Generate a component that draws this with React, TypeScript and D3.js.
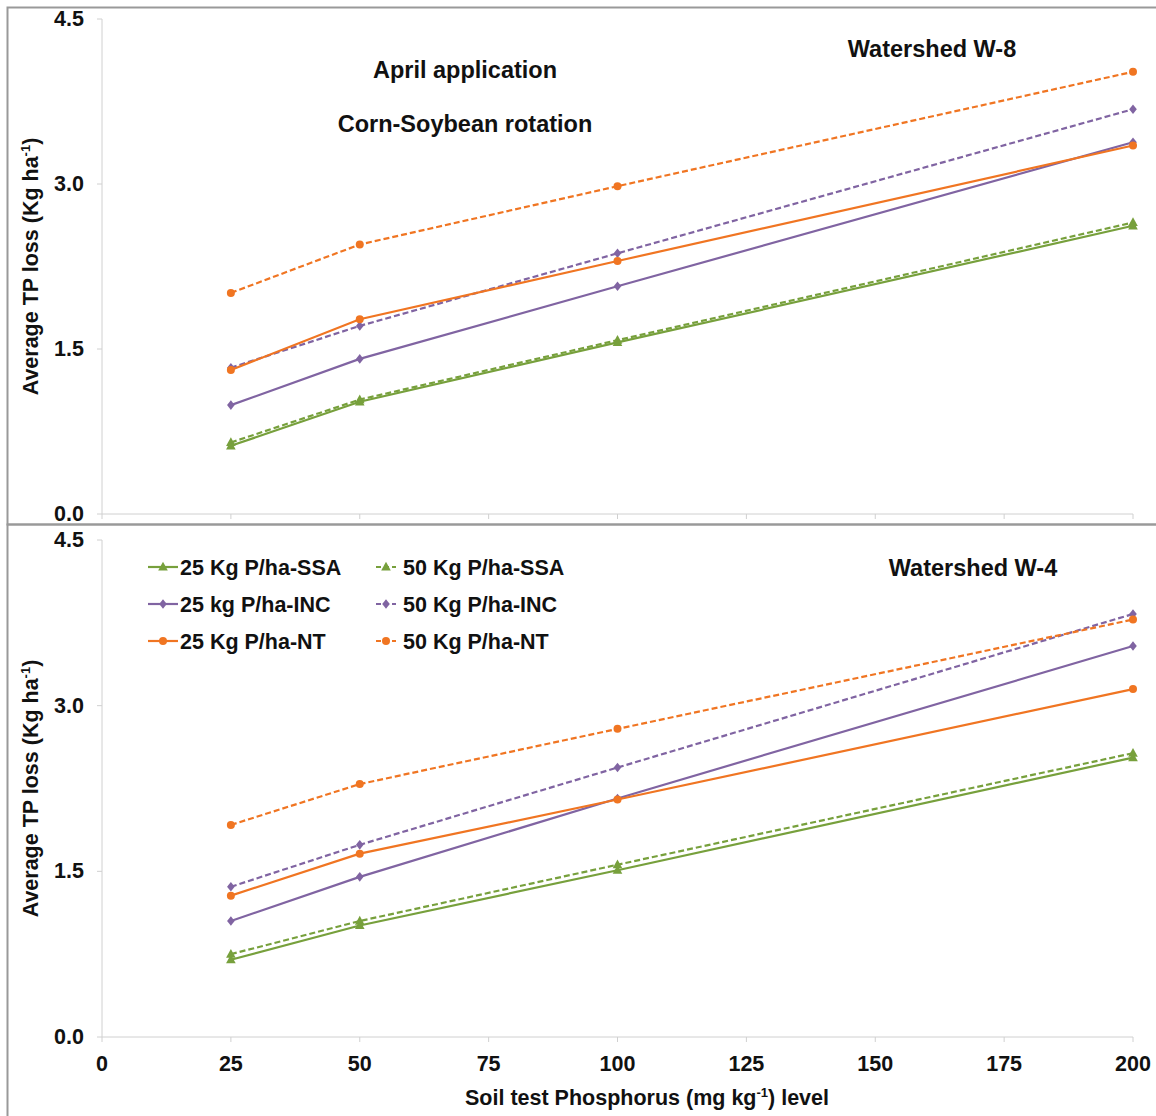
import React from "react";
import * as d3 from "d3";

const xValues = [25, 50, 100, 200];
const xTicks = [0, 25, 50, 75, 100, 125, 150, 175, 200];
const yTicks = [0, 1.5, 3.0, 4.5];

// Watershed W-8 (top)
const w8_25SSA = [0.62, 1.02, 1.56, 2.62];
const w8_50SSA = [0.65, 1.04, 1.58, 2.65];
const w8_25INC = [0.99, 1.41, 2.07, 3.38];
const w8_50INC = [1.33, 1.71, 2.37, 3.68];
const w8_25NT = [1.31, 1.77, 2.3, 3.35];
const w8_50NT = [2.01, 2.45, 2.98, 4.02];

// Watershed W-4 (bottom)
const w4_25SSA = [0.7, 1.01, 1.51, 2.53];
const w4_50SSA = [0.75, 1.05, 1.56, 2.57];
const w4_25INC = [1.05, 1.45, 2.16, 3.54];
const w4_50INC = [1.36, 1.74, 2.44, 3.83];
const w4_25NT = [1.28, 1.66, 2.15, 3.15];
const w4_50NT = [1.92, 2.29, 2.79, 3.78];

const seriesNames = [
  "25 Kg P/ha-SSA",
  "25 kg P/ha-INC",
  "25 Kg P/ha-NT",
  "50 Kg P/ha-SSA",
  "50 Kg P/ha-INC",
  "50 Kg P/ha-NT",
];

const GREEN = "#77A03C";
const PURPLE = "#8064A2";
const ORANGE = "#F07522";
const FONT = "'Liberation Sans', Arial, sans-serif";

type S = { name: string; values: number[]; color: string; dashed: boolean; marker: string };

function makeSeries(v: number[][]): S[] {
  const colors = [GREEN, PURPLE, ORANGE, GREEN, PURPLE, ORANGE];
  const markers = ["tri", "dia", "circ", "tri", "dia", "circ"];
  return v.map((vals, i) => ({
    name: seriesNames[i],
    values: vals,
    color: colors[i],
    dashed: i >= 3,
    marker: markers[i],
  }));
}

const topSeries = makeSeries([w8_25SSA, w8_25INC, w8_25NT, w8_50SSA, w8_50INC, w8_50NT]);
const botSeries = makeSeries([w4_25SSA, w4_25INC, w4_25NT, w4_50SSA, w4_50INC, w4_50NT]);

function Marker({ type, x, y, color }: { type: string; x: number; y: number; color: string }) {
  if (type === "circ") return <circle cx={x} cy={y} r={4} fill={color} />;
  if (type === "dia")
    return <path d={`M${x},${y - 4.8}L${x + 3.8},${y}L${x},${y + 4.8}L${x - 3.8},${y}Z`} fill={color} />;
  return <path d={`M${x},${y - 5.2}L${x + 4.8},${y + 3.6}L${x - 4.8},${y + 3.6}Z`} fill={color} />;
}

function Panel({
  series,
  top,
  bottom,
  showXLabels,
}: {
  series: S[];
  top: number;
  bottom: number;
  showXLabels: boolean;
}) {
  const x = d3.scaleLinear().domain([0, 200]).range([102, 1133]);
  const y = d3.scaleLinear().domain([0, 4.5]).range([bottom, top]);
  const line = d3
    .line<number>()
    .x((_, i) => x(xValues[i]))
    .y((d) => y(d));
  const order = [0, 3, 1, 4, 2, 5];
  return (
    <g>
      <line x1={x(0)} x2={x(0)} y1={y(4.5)} y2={y(0)} stroke="#d0d0d0" strokeWidth={1} />
      <line x1={x(0)} x2={x(200)} y1={y(0)} y2={y(0)} stroke="#d0d0d0" strokeWidth={1} />
      {yTicks.map((t) => (
        <g key={t}>
          <line x1={x(0) - 5} x2={x(0)} y1={y(t)} y2={y(t)} stroke="#d0d0d0" />
          <text
            x={84}
            y={y(t)}
            textAnchor="end"
            dominantBaseline="central"
            fontFamily={FONT}
            fontWeight="bold"
            fontSize={21.5}
            fill="#111"
          >
            {t.toFixed(1)}
          </text>
        </g>
      ))}
      {xTicks.map((t) => (
        <g key={t}>
          <line x1={x(t)} x2={x(t)} y1={y(0)} y2={y(0) + 5} stroke="#d0d0d0" />
          {showXLabels && (
            <text
              x={x(t)}
              y={y(0) + 34}
              textAnchor="middle"
              fontFamily={FONT}
              fontWeight="bold"
              fontSize={21.5}
              fill="#111"
            >
              {t}
            </text>
          )}
        </g>
      ))}
      <text
        transform={`translate(38,${(y(4.5) + y(0)) / 2}) rotate(-90)`}
        textAnchor="middle"
        fontFamily={FONT}
        fontWeight="bold"
        fontSize={21.5}
        fill="#111"
      >
        Average TP loss (Kg ha
        <tspan dy={-8} fontSize={13}>
          -1
        </tspan>
        <tspan dy={8}>)</tspan>
      </text>
      {order.map((i) => {
        const s = series[i];
        return (
          <g key={s.name}>
            <path
              d={line(s.values) || ""}
              fill="none"
              stroke={s.color}
              strokeWidth={2.2}
              strokeDasharray={s.dashed ? "6,3" : undefined}
            />
            {s.values.map((v, j) => (
              <Marker key={j} type={s.marker} x={x(xValues[j])} y={y(v)} color={s.color} />
            ))}
          </g>
        );
      })}
    </g>
  );
}

function Legend({ series }: { series: S[] }) {
  const cols = [148, 376];
  const rows = [567, 604, 641];
  return (
    <g>
      {series.map((s, i) => {
        const cx = cols[Math.floor(i / 3)];
        const cy = rows[i % 3];
        const len = s.dashed ? 20 : 30;
        return (
          <g key={s.name}>
            <line
              x1={cx}
              x2={cx + len}
              y1={cy}
              y2={cy}
              stroke={s.color}
              strokeWidth={2.2}
              strokeDasharray={s.dashed ? "5,3" : undefined}
            />
            <Marker type={s.marker} x={cx + len / 2} y={cy} color={s.color} />
            <text
              x={cx + len + (s.dashed ? 7 : 2)}
              y={cy + 1}
              dominantBaseline="central"
              fontFamily={FONT}
              fontWeight="bold"
              fontSize={21.5}
              fill="#111"
            >
              {s.name}
            </text>
          </g>
        );
      })}
    </g>
  );
}

export default function App() {
  const boldText = {
    fontFamily: FONT,
    fontWeight: "bold" as const,
    fontSize: 23.5,
    fill: "#111",
    textAnchor: "middle" as const,
  };
  return (
    <svg
      width={1156}
      height={1116}
      style={{ position: "absolute", left: 0, top: 0, background: "#fff" }}
    >
      <rect x={0} y={0} width={1156} height={1116} fill="#fff" />
      <rect x={7.5} y={7.5} width={1160} height={517} fill="none" stroke="#999" strokeWidth={2} />
      <rect x={7.5} y={524.5} width={1160} height={600} fill="none" stroke="#999" strokeWidth={2} />
      <Panel series={topSeries} top={19} bottom={514} showXLabels={false} />
      <Panel series={botSeries} top={540} bottom={1037} showXLabels={true} />
      <text x={465} y={78} {...boldText}>
        April application
      </text>
      <text x={465} y={132} {...boldText}>
        Corn-Soybean rotation
      </text>
      <text x={932} y={57} {...boldText}>
        Watershed W-8
      </text>
      <text x={973} y={576} {...boldText}>
        Watershed W-4
      </text>
      <Legend series={topSeries} />
      <text x={647} y={1105} {...boldText} fontSize={21.5}>
        Soil test Phosphorus (mg kg
        <tspan dy={-8} fontSize={13}>
          -1
        </tspan>
        <tspan dy={8}>) level</tspan>
      </text>
    </svg>
  );
}
